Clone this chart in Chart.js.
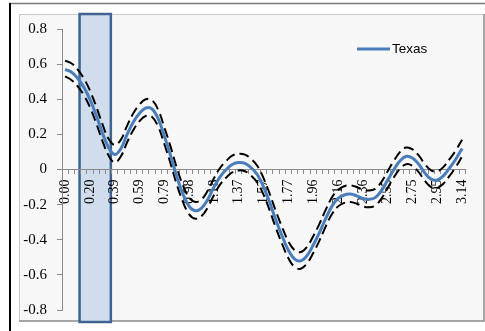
<!DOCTYPE html>
<html>
<head>
<meta charset="utf-8">
<script src="https://cdn.jsdelivr.net/npm/chart.js@4/dist/chart.umd.min.js"></script>
<style>
  html, body { margin: 0; padding: 0; background: #ffffff; }
  #wrap { position: relative; width: 485px; height: 331px; }
</style>
</head>
<body>
<div id="wrap"><canvas id="chart" width="485" height="331"></canvas></div>
<script>
// x positions (radians), one category per step
const categories = ["0.00","0.05","0.10","0.15","0.20","0.25","0.29","0.34","0.39","0.44","0.49","0.54","0.59","0.64","0.69","0.74","0.79","0.83","0.88","0.93","0.98","1.03","1.08","1.13","1.18","1.23","1.28","1.33","1.37","1.42","1.47","1.52","1.57","1.62","1.67","1.72","1.77","1.82","1.87","1.91","1.96","2.01","2.06","2.11","2.16","2.21","2.26","2.31","2.36","2.41","2.45","2.50","2.55","2.60","2.65","2.70","2.75","2.80","2.85","2.90","2.95","2.99","3.04","3.09","3.14"];

// Texas curve
const texas = [0.57,0.555,0.52,0.47,0.40,0.31,0.21,0.125,0.085,0.12,0.20,0.27,0.32,0.35,0.345,0.29,0.19,0.08,-0.04,-0.14,-0.21,-0.235,-0.22,-0.17,-0.10,-0.04,0.00,0.03,0.04,0.035,0.01,-0.03,-0.10,-0.19,-0.29,-0.38,-0.46,-0.51,-0.52,-0.49,-0.43,-0.36,-0.28,-0.21,-0.165,-0.145,-0.14,-0.15,-0.165,-0.17,-0.16,-0.12,-0.06,0.00,0.05,0.075,0.065,0.03,-0.02,-0.055,-0.06,-0.035,0.01,0.06,0.12];

// upper and lower bounds around the curve
const upperBound = [0.62,0.605,0.57,0.52,0.45,0.36,0.26,0.175,0.14,0.17,0.25,0.32,0.37,0.40,0.395,0.34,0.24,0.13,0.01,-0.09,-0.16,-0.185,-0.17,-0.12,-0.05,0.01,0.05,0.08,0.09,0.085,0.06,0.02,-0.05,-0.14,-0.24,-0.33,-0.41,-0.46,-0.47,-0.44,-0.38,-0.31,-0.23,-0.16,-0.115,-0.095,-0.09,-0.10,-0.115,-0.12,-0.11,-0.07,-0.01,0.05,0.10,0.125,0.115,0.08,0.03,-0.005,-0.01,0.015,0.06,0.11,0.17];
const lowerBound = [0.53,0.51,0.475,0.425,0.355,0.265,0.165,0.08,0.04,0.075,0.155,0.225,0.275,0.305,0.30,0.245,0.145,0.035,-0.085,-0.185,-0.255,-0.28,-0.265,-0.215,-0.145,-0.085,-0.045,-0.015,-0.005,-0.01,-0.035,-0.075,-0.145,-0.235,-0.335,-0.425,-0.505,-0.555,-0.565,-0.535,-0.475,-0.405,-0.325,-0.255,-0.21,-0.19,-0.185,-0.195,-0.21,-0.215,-0.205,-0.165,-0.105,-0.045,0.005,0.03,0.02,-0.015,-0.065,-0.10,-0.105,-0.08,-0.035,0.015,0.075];

// y axis ticks
const yTicks = [-0.8, -0.6, -0.4, -0.2, 0, 0.2, 0.4, 0.6, 0.8];

// highlighted window, in category-index units
const highlightWindow = [2.33, 7.37];

const BLUE = '#4a7ebb';

// page frame + plot panel + highlighted window, drawn beneath the axes
const framePlugin = {
  id: 'frame',
  beforeDraw(chart) {
    const ctx = chart.ctx;
    const W = chart.width, H = chart.height;
    ctx.save();
    ctx.fillStyle = '#ffffff';
    ctx.fillRect(0, 0, W, H);
    // outer border
    ctx.strokeStyle = '#7a7a7a';
    ctx.lineWidth = 1.5;
    ctx.beginPath(); ctx.moveTo(9, 3.5); ctx.lineTo(W, 3.5); ctx.stroke();
    ctx.strokeStyle = '#000000';
    ctx.lineWidth = 2;
    ctx.beginPath(); ctx.moveTo(10, 3); ctx.lineTo(10, H); ctx.stroke();
    // plot panel
    const px = 19, py = 14, pr = 484, pb = 321;
    ctx.fillStyle = '#f7f7f7';
    ctx.fillRect(px, py, pr - px, pb - py);
    ctx.strokeStyle = '#c9c9c9';
    ctx.lineWidth = 1;
    ctx.beginPath(); ctx.moveTo(px + 0.5, pb); ctx.lineTo(px + 0.5, py + 0.5); ctx.lineTo(pr, py + 0.5); ctx.stroke();
    ctx.strokeStyle = '#8a8a8a';
    ctx.lineWidth = 1.5;
    ctx.beginPath(); ctx.moveTo(pr, py); ctx.lineTo(pr, pb); ctx.lineTo(px, pb); ctx.stroke();

    // highlighted window
    const xs = chart.scales.x;
    const x0 = xs.getPixelForValue(highlightWindow[0]);
    const x1 = xs.getPixelForValue(highlightWindow[1]);
    const top = 14, bottom = 322;
    ctx.fillStyle = '#d0ddec';
    ctx.fillRect(x0, top, x1 - x0, bottom - top);
    ctx.strokeStyle = '#3f6291';
    ctx.lineWidth = 2.5;
    ctx.strokeRect(x0, top, x1 - x0, bottom - top);
    ctx.restore();
  },
  afterDraw(chart) {
    // legend entry for the Texas series
    const ctx = chart.ctx;
    ctx.save();
    ctx.strokeStyle = BLUE;
    ctx.lineWidth = 3;
    ctx.beginPath(); ctx.moveTo(357, 49); ctx.lineTo(390, 49); ctx.stroke();
    ctx.fillStyle = '#000000';
    ctx.font = '13.5px "Liberation Sans", Arial, sans-serif';
    ctx.textBaseline = 'middle';
    ctx.textAlign = 'left';
    ctx.fillText(chart.data.datasets[0].label, 392, 49);
    ctx.restore();
  }
};

const dashStyle = {
  borderColor: '#000000',
  borderWidth: 2,
  borderDash: [10, 5],
  pointRadius: 0,
  tension: 0.4,
  fill: false
};

new Chart(document.getElementById('chart'), {
  type: 'line',
  data: {
    labels: categories,
    datasets: [
      { label: 'Texas', data: texas, borderColor: BLUE, borderWidth: 3, pointRadius: 0, tension: 0.4, fill: false },
      Object.assign({ label: 'upper', data: upperBound }, dashStyle),
      Object.assign({ label: 'lower', data: lowerBound }, dashStyle)
    ]
  },
  options: {
    responsive: false,
    animation: false,
    events: [],
    layout: { padding: { top: 29, bottom: 21, right: 10, left: 0 } },
    plugins: {
      legend: { display: false },
      tooltip: { enabled: false }
    },
    scales: {
      x: {
        type: 'category',
        position: { y: 0 },
        offset: true,
        border: { display: true, color: '#8a8a8a', width: 1 },
        grid: {
          offset: true,
          drawOnChartArea: false,
          drawTicks: true,
          tickLength: 4,
          color: '#8a8a8a'
        },
        ticks: {
          autoSkip: false,
          minRotation: 90,
          maxRotation: 90,
          padding: 6,
          color: '#000000',
          font: { family: '"Liberation Serif", "Times New Roman", serif', size: 14 },
          callback: function (value, index) {
            return index % 4 === 0 ? categories[index] : '';
          }
        }
      },
      y: {
        min: -0.8,
        max: 0.8,
        afterFit(scale) { scale.width = 62; },
        afterBuildTicks(scale) { scale.ticks = yTicks.map(v => ({ value: v })); },
        border: { display: true, color: '#8a8a8a', width: 1 },
        grid: {
          drawOnChartArea: false,
          drawTicks: true,
          tickLength: 5,
          color: '#8a8a8a'
        },
        ticks: {
          padding: 10,
          color: '#000000',
          font: { family: '"Liberation Serif", "Times New Roman", serif', size: 15 },
          callback: function (value) {
            return Math.abs(value) < 1e-9 ? '0' : value.toFixed(1);
          }
        }
      }
    }
  },
  plugins: [framePlugin]
});
</script>
</body>
</html>
